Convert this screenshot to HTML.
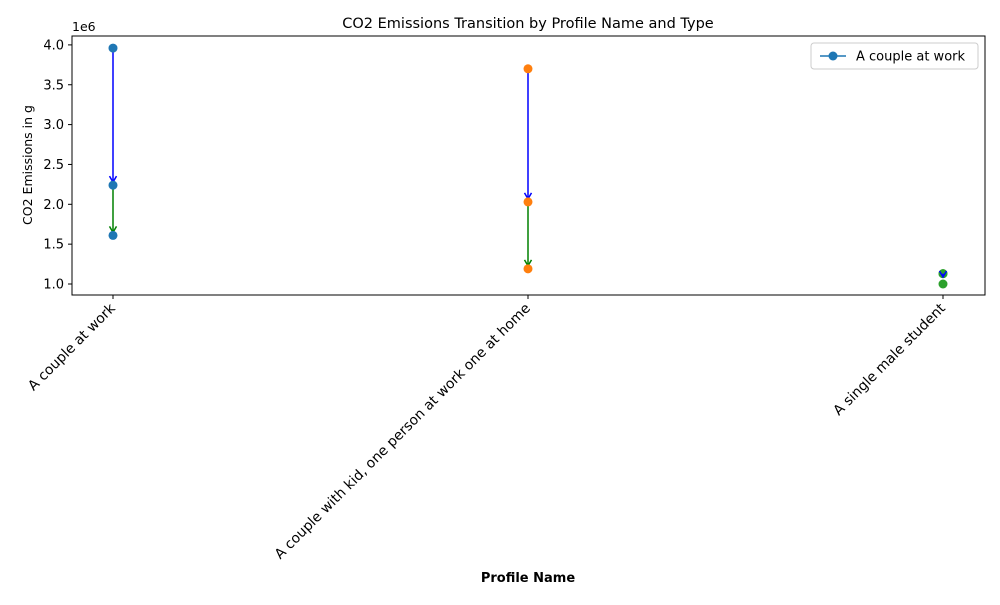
<!DOCTYPE html>
<html><head><meta charset="utf-8"><style>
body{margin:0;background:#fff;font-family:"Liberation Sans","DejaVu Sans",sans-serif;}
svg text{font-family:"DejaVu Sans","Liberation Sans",sans-serif;}
</style></head><body>
<svg id="chart" width="1000" height="600" xmlns="http://www.w3.org/2000/svg">
<text x="528" y="28" text-anchor="middle" font-size="14.5">CO2 Emissions Transition by Profile Name and Type</text>
<g id="marks"></g>
<rect x="72" y="36" width="913" height="259" fill="none" stroke="#000" stroke-width="1"/>
<g id="axes"></g>
<text x="72" y="31" font-size="12.5">1e6</text>
<text transform="translate(32,165) rotate(-90)" text-anchor="middle" font-size="12.5">CO2 Emissions in g</text>
<text x="528" y="582" text-anchor="middle" font-size="13" font-weight="bold">Profile Name</text>
<g>
<rect x="811" y="43" width="167" height="26" rx="3" fill="#fff" stroke="#ccc"/>
<line x1="820" y1="56" x2="846" y2="56" stroke="#1f77b4" stroke-width="1.5"/>
<circle cx="833" cy="56" r="4.5" fill="#1f77b4"/>
<text x="856" y="60.5" font-size="13">A couple at work</text>
</g>
</svg>
<script>
const categories=["A couple at work","A couple with kid, one person at work one at home","A single male student"];
const startVals=[3.96,3.70,1.13];
const midVals=[2.24,2.03,1.13];
const endVals=[1.61,1.19,1.00];
const pointColors=["#1f77b4","#ff7f0e","#2ca02c"];
const yTicks=[1.0,1.5,2.0,2.5,3.0,3.5,4.0];
const NS="http://www.w3.org/2000/svg";
function xS(i){return 113+i*415;}
function yS(v){return 284-(v-1)*79.7;}
function mk(tag,attrs,parent){const e=document.createElementNS(NS,tag);for(const k in attrs)e.setAttribute(k,attrs[k]);parent.appendChild(e);return e;}
const marks=document.getElementById('marks');const axes=document.getElementById('axes');
function arrow(x,v0,v1,col,name){
 const y0=yS(v0),y1=yS(v1)-3;
 const g=mk('g',{},marks);
 
 
 mk('line',{x1:x,y1:y0,x2:x,y2:y1,stroke:col,'stroke-width':1.5},g);
 mk('path',{d:`M${x-3.5},${y1-6} L${x},${y1} L${x+3.5},${y1-6}`,fill:'none',stroke:col,'stroke-width':1.5},g);
}
categories.forEach((c,i)=>{
 const x=xS(i);
 const third=Math.abs(midVals[i]-startVals[i])<1e-9;
 if(!third){
  arrow(x,startVals[i],midVals[i],'#0000ff','arrow-type1-'+i);
  arrow(x,midVals[i],endVals[i],'#008000','arrow-type2-'+i);
 }
 [startVals[i],midVals[i],endVals[i]].forEach((v,j)=>{
  const p=mk('circle',{cx:x,cy:yS(v),r:4.5,fill:pointColors[i]},marks);
  
  
 });
 if(third){
  arrow(x,startVals[i],endVals[i]+0.05,'#0000ff','arrow-type1-'+i);
 }
 const t=mk('line',{x1:x,y1:295,x2:x,y2:299,stroke:'#000'},axes);
 
 
 const l=mk('text',{transform:`translate(${x+3},309) rotate(-45)`,'text-anchor':'end','font-size':13.9},axes);
 l.textContent=c;
 
 
});
yTicks.forEach(v=>{
 const y=yS(v);
 const t=mk('line',{x1:68,y1:y,x2:72,y2:y,stroke:'#000'},axes);
 
 
 const l=mk('text',{x:64,y:y+4.5,'text-anchor':'end','font-size':13},axes);
 l.textContent=v.toFixed(1);
 
 
});
</script>
</body></html>
